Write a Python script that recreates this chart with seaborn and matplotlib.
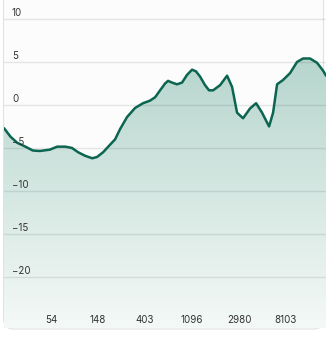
import numpy as np
import pandas as pd
import matplotlib
matplotlib.use("Agg")
import matplotlib.pyplot as plt
import seaborn as sns
from matplotlib.patches import FancyBboxPatch, Polygon
from matplotlib.colors import LinearSegmentedColormap

# ---- data (frequency in Hz, response in dB) ----
freq = [20, 23, 26.5, 31, 37, 43, 53, 62, 74, 85, 97, 112, 131, 145, 165, 192,
        213, 237, 275, 326, 386, 448, 500, 555, 618, 658, 716, 797, 886, 986,
        1097, 1193, 1300, 1446, 1575, 1716, 1992, 2312, 2571, 2859, 3249, 3772,
        4287, 4869, 5652, 6157, 6705, 7614, 8836, 10257, 11657, 13526, 15700,
        17823, 19000]
level = [-2.7, -3.7, -4.4, -4.8, -5.3, -5.35, -5.2, -4.85, -4.85, -5.0, -5.5,
         -5.9, -6.2, -6.05, -5.5, -4.6, -4.0, -2.8, -1.4, -0.35, 0.2, 0.5, 0.9,
         1.7, 2.5, 2.8, 2.6, 2.4, 2.6, 3.5, 4.1, 3.9, 3.3, 2.3, 1.7, 1.7, 2.3,
         3.4, 2.1, -0.9, -1.55, -0.4, 0.2, -0.9, -2.5, -0.9, 2.4, 2.9, 3.7, 5.0,
         5.4, 5.4, 4.9, 4.0, 3.4]
x_ticks = [54.6, 148.4, 403.4, 1096.6, 2981.0, 8103.1]
x_tick_labels = ["54", "148", "403", "1096", "2980", "8103"]
y_ticks = [10, 5, 0, -5, -10, -15, -20]

df = pd.DataFrame({"freq": freq, "level": level})

sns.set_theme(style="white")
plt.rcParams["font.family"] = ["Inter", "DejaVu Sans"]

W, H = 326, 337
YMIN, YMAX = -25.93, 12.2
fig = plt.figure(figsize=(W / 100, H / 100), dpi=100)
fig.patch.set_facecolor("white")

# card background
card = FancyBboxPatch((3.5 / W, (H - 329) / H), 320 / W, 340 / H,
                      boxstyle="round,pad=0,rounding_size=0.03",
                      transform=fig.transFigure, facecolor="#fbfcfb",
                      edgecolor="#dfe3e1", linewidth=0.8, zorder=-10)
fig.patches.append(card)

ax = fig.add_axes([4 / W, (H - 328) / H, 322 / W, 328 / H])
ax.set_facecolor("none")
ax.set_xscale("log")
ax.set_xlim(20, 19000)
ax.set_ylim(YMIN, YMAX)

# gradient fill below the line
xs = np.array(freq)
ys = np.array(level)
verts = np.vstack([np.column_stack([xs, ys]),
                   [[xs[-1], YMIN], [xs[0], YMIN]]])
poly = Polygon(verts, closed=True, facecolor="none", edgecolor="none")
ax.add_patch(poly)
cmap = LinearSegmentedColormap.from_list("g", ["#f4f9f7", "#a9cec4"])
grad = np.linspace(0, 1, 256).reshape(-1, 1)
im = ax.imshow(grad, cmap=cmap, aspect="auto", origin="lower",
               extent=[0, 1, 0, 1], transform=ax.transAxes, zorder=1)
im.set_clip_path(poly)

# gridlines
for yv in y_ticks:
    ax.axhline(yv, color="black", alpha=0.09, linewidth=1.0, zorder=2)

sns.lineplot(data=df, x="freq", y="level", ax=ax, color="#0b6550",
             linewidth=1.8, zorder=3)

ax.set_xlim(20, 19000)
ax.set_ylim(YMIN, YMAX)

for s in ax.spines.values():
    s.set_visible(False)
ax.set_xticks([])
ax.set_yticks([])
ax.minorticks_off()
ax.set_xlabel("")
ax.set_ylabel("")

# y labels inside plot, above gridlines
for yv in y_ticks:
    lab = str(yv).replace("-", "\u2212")
    ax.text(8 / 322, yv + 0.12, lab, transform=ax.get_yaxis_transform(),
            ha="left", va="bottom", fontsize=7, color="#333333", zorder=4)

# x labels inside plot
for xv, lab in zip(x_ticks, x_tick_labels):
    ax.text(xv, 8 / 328, lab, transform=ax.get_xaxis_transform(),
            ha="center", va="center", fontsize=7, color="#333333", zorder=4)

fig.savefig("out.png", dpi=100, facecolor="white")
